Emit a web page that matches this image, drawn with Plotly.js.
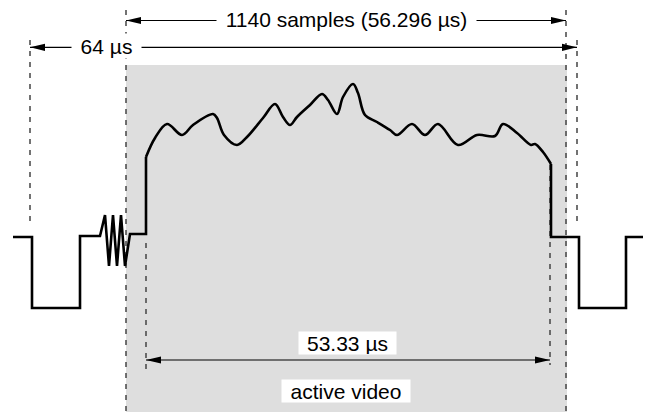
<!DOCTYPE html>
<html><head><meta charset="utf-8">
<script src="https://cdn.plot.ly/plotly-3.0.1.min.js"></script>
<style>html,body{margin:0;padding:0;background:#fff}</style>
</head><body><div id="chart" style="width:647px;height:414px"></div>
<script>
// Signal waveform (diagram units = pixels of the drawing, y downwards)
const syncLeftX = [13, 32, 32, 80, 80, 100, 105, 109, 113, 117, 121, 125, 130, 146, 146];
const syncLeftY = [237, 237, 308, 308, 236, 236, 215, 266, 215, 266, 215, 266, 234, 234, 157];
const videoX = [146, 155, 167, 182, 193, 213, 217, 224, 237, 247, 263, 275, 283, 290, 297, 310, 322, 328, 337, 343, 353, 358, 365, 377, 390, 397, 412, 425, 438, 458, 477, 495, 503, 517, 531, 535, 543, 551];
const videoY = [157, 138, 124, 135, 125, 114, 118, 135, 145, 137, 118, 104, 117, 125, 117, 105, 94, 100, 114, 97, 84, 93, 115, 122, 130, 135, 124, 135, 124, 145, 135, 136, 124, 133, 145, 144, 152, 164];
const syncRightX = [551, 551, 579, 579, 626, 626, 643];
const syncRightY = [164, 237, 237, 308, 308, 237, 237];

// Active region
const activeRegionX = [126, 567];
const activeRegionY = [65, 412];

// Dashed guide lines
const guideX = [30, 126, 146, 550, 566, 577];
const guideTop = [40, 10, 243, 165, 10, 40];
const guideBottom = [226, 414, 373, 365, 414, 227];

// Dimension arrows
const dimStart = [126, 30, 146];
const dimEnd = [566, 577, 550];
const dimY = [20.5, 47.3, 360];

// Labels
const labelText = ['1140 samples (56.296 \u00b5s)', '64 \u00b5s', '53.33 \u00b5s', 'active video'];
const labelX = [346, 106, 347, 346];
const labelY = [19, 46, 342.5, 391];
const labelW = [259, 69, 97, 128];
const labelH = [24, 24, 22, 22];

const shapes = [];
shapes.push({type:'rect', xref:'x', yref:'y', x0:activeRegionX[0], x1:activeRegionX[1], y0:activeRegionY[0], y1:activeRegionY[1],
  fillcolor:'#dedede', line:{width:0}, layer:'below'});
for (let i = 0; i < guideX.length; i++) {
  shapes.push({type:'line', xref:'x', yref:'y', x0:guideX[i], x1:guideX[i], y0:guideTop[i], y1:guideBottom[i],
    line:{color:'#444444', width:1.5, dash:'5px,6px'}, layer:'below'});
}
const headL = 15, headH = 3.6;
for (let i = 0; i < dimStart.length; i++) {
  const a = dimStart[i], b = dimEnd[i], y = dimY[i];
  shapes.push({type:'line', xref:'x', yref:'y', x0:a, x1:b, y0:y, y1:y, line:{color:'#000', width:1.2}});
  shapes.push({type:'path', xref:'x', yref:'y', path:`M${a},${y} L${a+headL},${y-headH} L${a+headL},${y+headH} Z`, fillcolor:'#000', line:{width:0}});
  shapes.push({type:'path', xref:'x', yref:'y', path:`M${b},${y} L${b-headL},${y-headH} L${b-headL},${y+headH} Z`, fillcolor:'#000', line:{width:0}});
}

const annotations = labelText.map((t, i) => ({
  xref:'x', yref:'y', x:labelX[i], y:labelY[i], text:t, showarrow:false,
  bgcolor:'#ffffff', borderpad:0, width:labelW[i], height:labelH[i],
  font:{family:'Liberation Sans, Arial, sans-serif', size:21, color:'#000'}
}));

const traces = [
  {x:syncLeftX, y:syncLeftY, mode:'lines', line:{color:'#000', width:2.6, shape:'linear'}, hoverinfo:'skip'},
  {x:videoX, y:videoY, mode:'lines', line:{color:'#000', width:2.6, shape:'spline', smoothing:1}, hoverinfo:'skip'},
  {x:syncRightX, y:syncRightY, mode:'lines', line:{color:'#000', width:2.6, shape:'linear'}, hoverinfo:'skip'}
];

const layout = {
  width:647, height:414, margin:{l:0, r:0, t:0, b:0},
  paper_bgcolor:'#fff', plot_bgcolor:'#fff', showlegend:false,
  xaxis:{range:[0,647], visible:false, fixedrange:true},
  yaxis:{range:[414,0], visible:false, fixedrange:true},
  shapes:shapes, annotations:annotations
};
Plotly.newPlot('chart', traces, layout, {staticPlot:true, displayModeBar:false});
</script></body></html>
